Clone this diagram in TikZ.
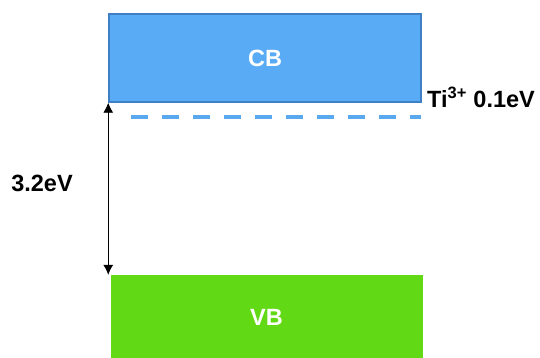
\documentclass[tikz,border=0pt]{standalone}
\usepackage{fontspec}
\setmainfont{Liberation Sans}
\usetikzlibrary{arrows.meta}
\definecolor{cbfill}{HTML}{5AABF5}
\definecolor{cbedge}{HTML}{3F7FC4}
\definecolor{vbfill}{HTML}{62D915}
\definecolor{defect}{HTML}{5AA8EE}
\begin{document}
\begin{tikzpicture}[x=1pt,y=-1pt,
  band/.style={minimum width=312pt,inner sep=0pt,font=\fontsize{23.5}{27}\selectfont\bfseries,text=white},
  lbl/.style={font=\fontsize{23.5}{27}\selectfont\bfseries,inner sep=0pt},
  tip/.style={Latex[length=10pt,width=10pt]}]
\useasboundingbox (0,0) rectangle (540,358);
% conduction band
\node[band,draw=cbedge,line width=1.5pt,fill=cbfill,minimum height=88pt] (cb) at (265,58) {CB};
% valence band (cut off at the lower edge)
\node[band,fill=vbfill,minimum height=84pt] (vb) at (266.5,317) {VB};
% defect level
\coordinate (d1) at (131,117);
\coordinate (d2) at (421,117);
\draw[defect,line width=3.5pt,dash pattern=on 17pt off 14pt] (d1) -- (d2);
% band gap arrow
\draw[line width=0.8pt,{Latex[length=10pt,width=10pt]}-{Latex[length=10pt,width=10pt]}] (cb.south west) -- (cb.south west |- vb.north);
% labels
\node[lbl,anchor=west] (ti) at (427,97) {Ti\textsuperscript{3+} 0.1eV};
\node[lbl] (gap) at (42,183) {3.2eV};
\end{tikzpicture}
\end{document}
